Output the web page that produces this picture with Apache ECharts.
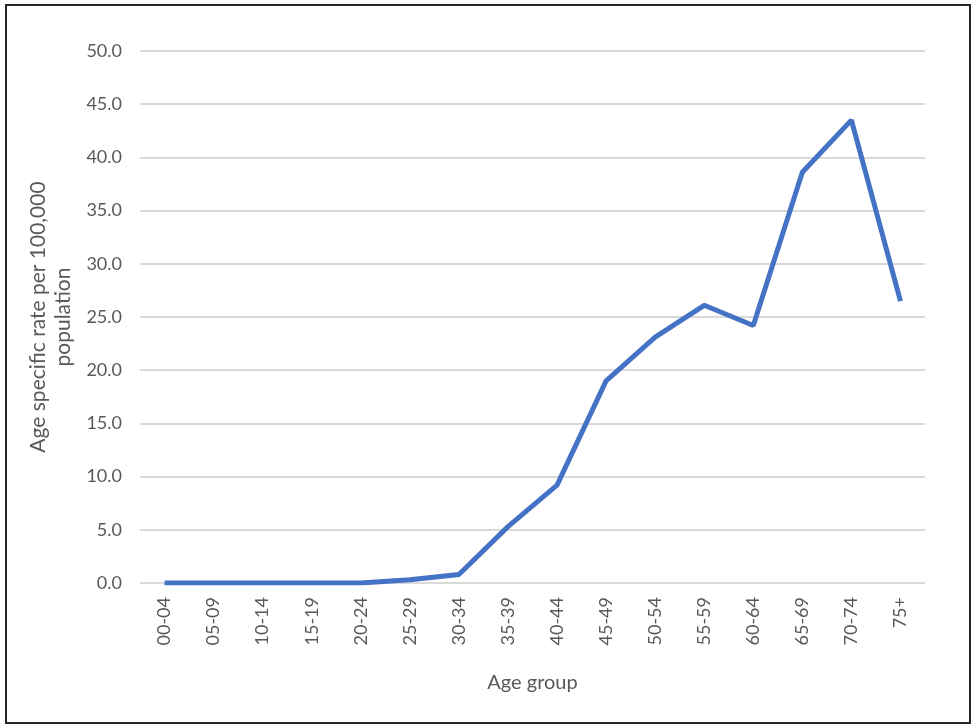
<!DOCTYPE html>
<html>
<head>
<meta charset="utf-8">
<title>Age specific rate</title>
<script src="https://cdn.jsdelivr.net/npm/echarts@6/dist/echarts.min.js"></script>
<style>
  html, body { margin: 0; padding: 0; background: #fff; }
  #chart { width: 974px; height: 727px; }
</style>
</head>
<body>
<div id="chart"></div>
<script>
// age groups along the x axis
var ageGroups = ["00-04", "05-09", "10-14", "15-19", "20-24", "25-29", "30-34", "35-39",
    "40-44", "45-49", "50-54", "55-59", "60-64", "65-69", "70-74", "75+"];
// rate per 100,000
var rates = [0.0, 0.0, 0.0, 0.0, 0.0, 0.3, 0.8, 5.3, 9.2, 19.0, 23.1, 26.1, 24.2, 38.6, 43.5, 26.5];
var yMin = 0, yMax = 50, yStep = 5;

var grey = "#595959";
var font = "Lato, 'Open Sans', sans-serif";

var myChart = echarts.init(document.getElementById("chart"));
var option = {
    animation: false,
    graphic: [{
        type: "rect",
        shape: { x: 6, y: 5, width: 964, height: 718 },
        style: { fill: "none", stroke: "#262626", lineWidth: 2 },
        silent: true
    }],
    grid: { left: 140, right: 49, top: 51, bottom: 144, containLabel: false },
    xAxis: {
        type: "category",
        data: ageGroups,
        name: "Age group",
        nameLocation: "middle",
        nameGap: 90,
        nameTextStyle: { color: grey, fontSize: 20, fontFamily: font },
        axisLine: { show: false },
        axisTick: { show: false },
        axisLabel: { rotate: 90, color: grey, fontSize: 18, fontFamily: font, margin: 14 }
    },
    yAxis: {
        type: "value",
        min: yMin,
        max: yMax,
        interval: yStep,
        name: "Age specific rate per 100,000\npopulation",
        nameLocation: "middle",
        nameGap: 58,
        nameTextStyle: { color: grey, fontSize: 21, fontFamily: font, lineHeight: 25 },
        axisLabel: {
            color: grey, fontSize: 18, fontFamily: font, margin: 18,
            formatter: function (v) { return v.toFixed(1); }
        },
        splitLine: { lineStyle: { color: "#d9d9d9", width: 2 } }
    },
    series: [{
        type: "line",
        data: rates,
        symbol: "none",
        lineStyle: { color: "#4472C4", width: 5 },
        itemStyle: { color: "#4472C4" }
    }]
};
myChart.setOption(option);
</script>
</body>
</html>
